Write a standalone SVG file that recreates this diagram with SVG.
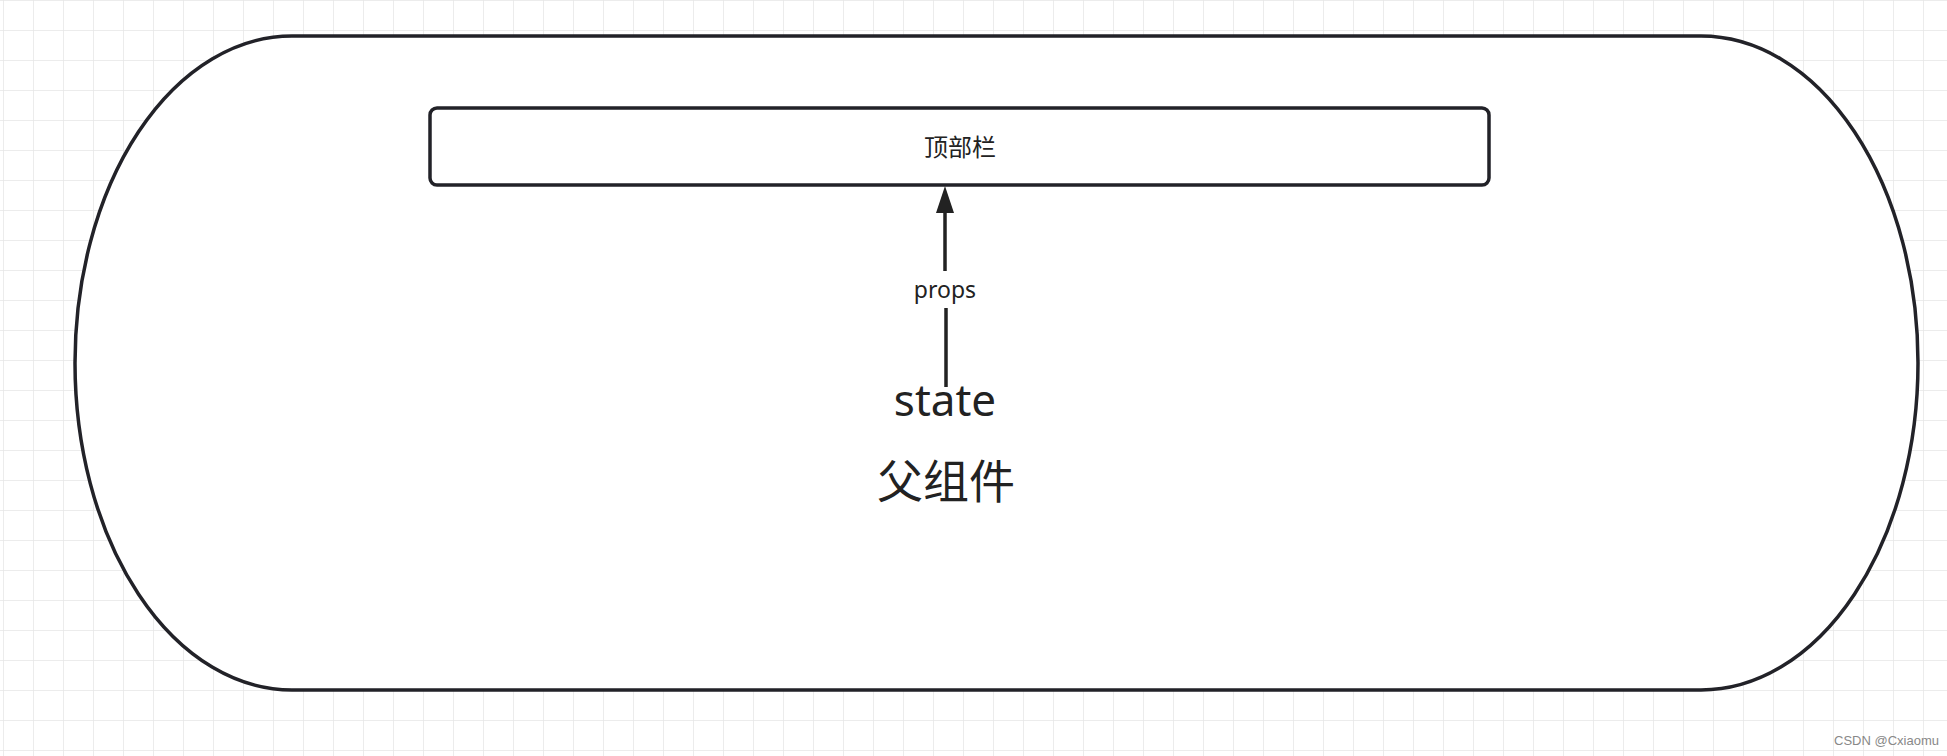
<svg xmlns="http://www.w3.org/2000/svg" width="1947" height="756" viewBox="0 0 1947 756">
<defs>
<pattern id="grid" x="3" y="0" width="30" height="30" patternUnits="userSpaceOnUse">
<path d="M0 0H30M0 0V30" fill="none" stroke="#e6e6e6" stroke-width="1.5"/>
</pattern>
<style>
.sh{fill:#fff;stroke:#222228;stroke-width:3.5}
.t{font-family:"Noto Sans","Noto Sans CJK SC",sans-serif;fill:#222;text-anchor:middle}
</style>
</defs>
<rect width="1947" height="756" fill="#fff"/>
<rect width="1947" height="756" fill="url(#grid)"/>
<g id="parent"><rect class="sh" x="75" y="36" width="1843" height="654" rx="217" ry="327"/>
<text class="t" x="945" y="416" font-size="44">state</text>
<text class="t" x="946" y="498" font-size="46">父组件</text></g>
<g id="topbar"><rect class="sh" x="430" y="108" width="1059" height="77" rx="7"/>
<text class="t" x="960" y="156" font-size="24">顶部栏</text></g>
<g id="connectors">
<path d="M946 387V308M945 271V205" fill="none" stroke="#222" stroke-width="3.5"/>
<path d="M945 186L954 213L936 213Z" fill="#222"/>
<text class="t" x="945" y="298" font-size="23">props</text>
</g>
<text x="1834" y="745" font-family="Liberation Sans,sans-serif" font-size="13" fill="#888">CSDN @Cxiaomu</text>
</svg>
